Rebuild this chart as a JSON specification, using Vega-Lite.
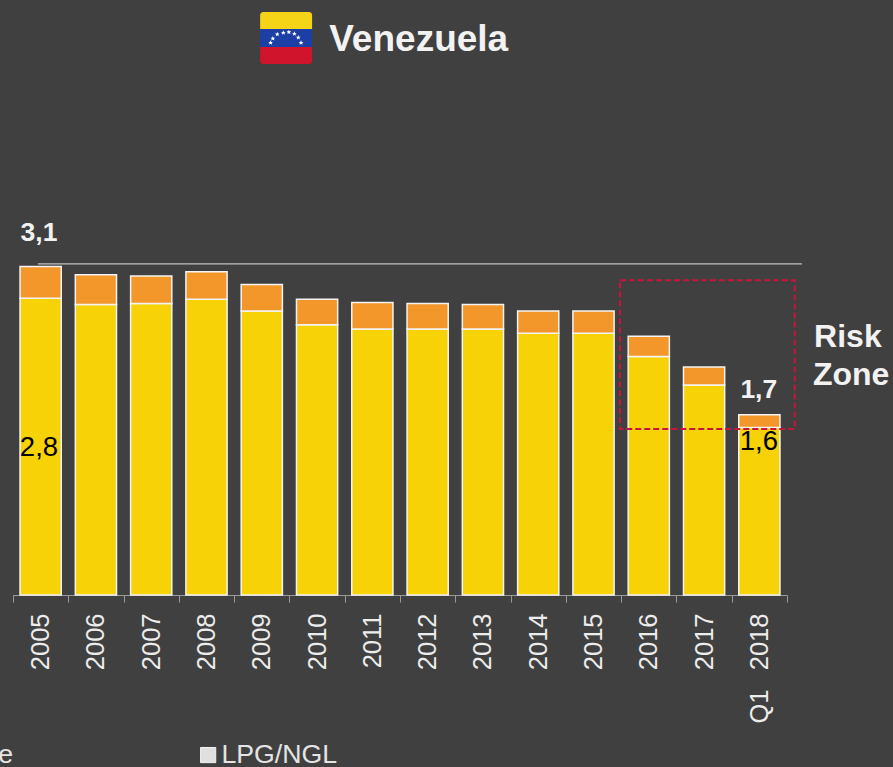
{
"$schema":"https://vega.github.io/schema/vega-lite/v6.json",
"width":774,"height":595,
"autosize":{"type":"none"},
"padding":{"left":13,"top":0,"right":106,"bottom":172},
"background":"#404040",
"config":{"view":{"stroke":null},"font":"Liberation Sans"},
"layer":[
{"data":{"values":[
{"year":"2005","type":"Crude","value":2.80,"o":1},{"year":"2005","type":"LPG/NGL","value":0.30,"o":2},
{"year":"2006","type":"Crude","value":2.74,"o":1},{"year":"2006","type":"LPG/NGL","value":0.28,"o":2},
{"year":"2007","type":"Crude","value":2.75,"o":1},{"year":"2007","type":"LPG/NGL","value":0.26,"o":2},
{"year":"2008","type":"Crude","value":2.79,"o":1},{"year":"2008","type":"LPG/NGL","value":0.26,"o":2},
{"year":"2009","type":"Crude","value":2.68,"o":1},{"year":"2009","type":"LPG/NGL","value":0.25,"o":2},
{"year":"2010","type":"Crude","value":2.55,"o":1},{"year":"2010","type":"LPG/NGL","value":0.24,"o":2},
{"year":"2011","type":"Crude","value":2.51,"o":1},{"year":"2011","type":"LPG/NGL","value":0.25,"o":2},
{"year":"2012","type":"Crude","value":2.51,"o":1},{"year":"2012","type":"LPG/NGL","value":0.24,"o":2},
{"year":"2013","type":"Crude","value":2.51,"o":1},{"year":"2013","type":"LPG/NGL","value":0.23,"o":2},
{"year":"2014","type":"Crude","value":2.47,"o":1},{"year":"2014","type":"LPG/NGL","value":0.21,"o":2},
{"year":"2015","type":"Crude","value":2.47,"o":1},{"year":"2015","type":"LPG/NGL","value":0.21,"o":2},
{"year":"2016","type":"Crude","value":2.25,"o":1},{"year":"2016","type":"LPG/NGL","value":0.19,"o":2},
{"year":"2017","type":"Crude","value":1.98,"o":1},{"year":"2017","type":"LPG/NGL","value":0.17,"o":2},
{"year":"Q1\u00a0\u00a0\u20092018","type":"Crude","value":1.58,"o":1},{"year":"Q1\u00a0\u00a0\u20092018","type":"LPG/NGL","value":0.12,"o":2}
]},
"mark":{"type":"bar","stroke":"#f4f4f4","strokeWidth":1.5,"width":{"band":0.745}},
"encoding":{
"x":{"field":"year","type":"nominal","sort":null,"title":null,
"scale":{"paddingInner":0,"paddingOuter":0},
"axis":{"labelAngle":-90,"labelFontSize":25.5,"labelColor":"#ececec","labelPadding":11,"labelLimit":200,"labelFont":"Liberation Sans","domainColor":"#9a9a9a","tickColor":"#9a9a9a","tickSize":7,"tickBand":"extent","labelBaseline":"middle","labelAlign":"right"}},
"y":{"field":"value","type":"quantitative","stack":"zero","title":null,"scale":{"domain":[0,5.613],"nice":false,"zero":true},"axis":null},
"color":{"field":"type","type":"nominal","legend":null,"scale":{"domain":["Crude","LPG/NGL"],"range":["#f6d206","#f4972a"]}},
"order":{"field":"o","type":"quantitative"}
}},
{"layer":[
{"data":{"values":[{"x":2004.95,"x2":2018.77,"y":3.123}]},
"mark":{"type":"rule","color":"#c0c0c0","strokeWidth":1.3},
"encoding":{"x":{"field":"x","type":"quantitative","scale":{"domain":[2004.5,2018.5],"nice":false,"zero":false},"axis":null,"title":null},"x2":{"field":"x2"},"y":{"field":"y","type":"quantitative"}}},
{"data":{"values":[{"x":2015.48,"x2":2018.64,"y":2.97,"y2":1.566}]},
"mark":{"type":"rect","fillOpacity":0,"stroke":"#c8143c","strokeWidth":2,"strokeDash":[6,3]},
"encoding":{"x":{"field":"x","type":"quantitative"},"x2":{"field":"x2"},"y":{"field":"y","type":"quantitative"},"y2":{"field":"y2"}}},
{"data":{"values":[{"x":2008.97,"x2":2009.91,"y":5.5,"y2":5.34}]},
"mark":{"type":"rect","color":"#f5d316","cornerRadiusTopLeft":3,"cornerRadiusTopRight":3},
"encoding":{"x":{"field":"x","type":"quantitative"},"x2":{"field":"x2"},"y":{"field":"y","type":"quantitative"},"y2":{"field":"y2"}}},
{"data":{"values":[{"x":2008.97,"x2":2009.91,"y":5.34,"y2":5.17}]},
"mark":{"type":"rect","color":"#1c3fa6"},
"encoding":{"x":{"field":"x","type":"quantitative"},"x2":{"field":"x2"},"y":{"field":"y","type":"quantitative"},"y2":{"field":"y2"}}},
{"data":{"values":[{"x":2008.97,"x2":2009.91,"y":5.17,"y2":5.01}]},
"mark":{"type":"rect","color":"#cf142b","cornerRadiusBottomLeft":3,"cornerRadiusBottomRight":3},
"encoding":{"x":{"field":"x","type":"quantitative"},"x2":{"field":"x2"},"y":{"field":"y","type":"quantitative"},"y2":{"field":"y2"}}},
{"data":{"values":[{"x":2009.16,"y":5.21},{"x":2009.2,"y":5.25},{"x":2009.28,"y":5.29},{"x":2009.39,"y":5.305},{"x":2009.49,"y":5.31},{"x":2009.59,"y":5.295},{"x":2009.66,"y":5.26},{"x":2009.71,"y":5.21}]},
"mark":{"type":"point","shape":"M0,-1L0.29,-0.31L0.95,-0.31L0.47,0.12L0.59,0.81L0,0.45L-0.59,0.81L-0.47,0.12L-0.95,-0.31L-0.29,-0.31Z","size":24,"filled":true,"color":"#ffffff","opacity":1},
"encoding":{"x":{"field":"x","type":"quantitative"},"y":{"field":"y","type":"quantitative"}}},
{"data":{"values":[{"x":2008.03,"y":-1.51}]},
"mark":{"type":"square","size":230,"color":"#e0e0e0","opacity":1,"stroke":"#f2f2f2","strokeWidth":1},
"encoding":{"x":{"field":"x","type":"quantitative"},"y":{"field":"y","type":"quantitative"}}},
{"data":{"values":[
{"x":2010.22,"y":5.24,"t":"Venezuela"}]},
"mark":{"type":"text","align":"left","baseline":"middle","fontSize":37,"fontWeight":"bold","color":"#f2f2f2"},
"encoding":{"x":{"field":"x","type":"quantitative"},"y":{"field":"y","type":"quantitative"},"text":{"field":"t"}}},
{"data":{"values":[
{"x":2018.99,"y":2.43,"t":"Risk"},{"x":2018.97,"y":2.08,"t":"Zone"}]},
"mark":{"type":"text","align":"left","baseline":"middle","fontSize":32,"fontWeight":"bold","color":"#f2f2f2"},
"encoding":{"x":{"field":"x","type":"quantitative"},"y":{"field":"y","type":"quantitative"},"text":{"field":"t"}}},
{"data":{"values":[
{"x":2004.97,"y":3.415,"t":"3,1"},{"x":2017.99,"y":1.934,"t":"1,7"}]},
"mark":{"type":"text","align":"center","baseline":"middle","fontSize":26.5,"fontWeight":"bold","color":"#f2f2f2"},
"encoding":{"x":{"field":"x","type":"quantitative"},"y":{"field":"y","type":"quantitative"},"text":{"field":"t"}}},
{"data":{"values":[
{"x":2004.97,"y":1.385,"t":"2,8"},{"x":2017.99,"y":1.44,"t":"1,6"}]},
"mark":{"type":"text","align":"center","baseline":"middle","fontSize":27.5,"color":"#000000"},
"encoding":{"x":{"field":"x","type":"quantitative"},"y":{"field":"y","type":"quantitative"},"text":{"field":"t"}}},
{"data":{"values":[
{"x":2008.27,"y":-1.51,"t":"LPG/NGL"}]},
"mark":{"type":"text","align":"left","baseline":"middle","fontSize":26.7,"color":"#e4e4e4"},
"encoding":{"x":{"field":"x","type":"quantitative"},"y":{"field":"y","type":"quantitative"},"text":{"field":"t"}}},
{"data":{"values":[
{"x":2004.5,"y":-1.51,"t":"Crude"}]},
"mark":{"type":"text","align":"right","baseline":"middle","fontSize":26.7,"color":"#e4e4e4"},
"encoding":{"x":{"field":"x","type":"quantitative"},"y":{"field":"y","type":"quantitative"},"text":{"field":"t"}}}
]}
],
"resolve":{"scale":{"x":"independent"},"axis":{"x":"independent"}}
}
